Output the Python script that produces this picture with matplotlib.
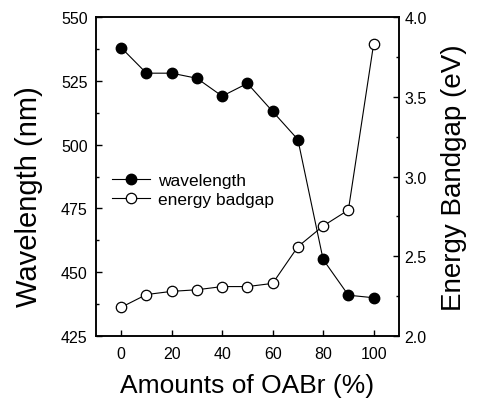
import matplotlib.pyplot as plt
from matplotlib.ticker import MultipleLocator

plt.rcParams['font.family'] = ['Liberation Sans', 'DejaVu Sans']

oabr = [0, 10, 20, 30, 40, 50, 60, 70, 80, 90, 100]
wavelength = [538, 528, 528, 526, 519, 524, 513, 502, 455, 441, 440]
bandgap = [2.18, 2.26, 2.28, 2.29, 2.31, 2.31, 2.33, 2.56, 2.69, 2.79, 3.83]

fig = plt.figure(figsize=(4.87, 4.10), dpi=100)
ax = fig.add_axes([0.197, 0.178, 0.622, 0.778])
ax2 = ax.twinx()

l1, = ax.plot(oabr, wavelength, color='black', lw=0.8, marker='o', ms=7.5,
              mfc='black', mec='black', label='wavelength')
l2, = ax2.plot(oabr, bandgap, color='black', lw=0.8, marker='o', ms=7.5,
               mfc='white', mec='black', mew=0.9, label='energy badgap')

ax.set_xlim(-10, 110)
ax.set_ylim(425, 550)
ax2.set_ylim(2.0, 4.0)
ax.xaxis.set_major_locator(MultipleLocator(20))
ax.yaxis.set_major_locator(MultipleLocator(25))
ax.yaxis.set_minor_locator(MultipleLocator(12.5))
ax2.yaxis.set_major_locator(MultipleLocator(0.5))
ax2.yaxis.set_minor_locator(MultipleLocator(0.25))
ax2.yaxis.set_major_formatter(plt.FormatStrFormatter('%.1f'))

for a in (ax, ax2):
    for s in a.spines.values():
        s.set_linewidth(1.1)
    a.tick_params(which='major', direction='in', length=4, width=1.0, labelsize=11.5)
    a.tick_params(which='minor', direction='in', length=2.5, width=1.0)
ax.tick_params(axis='y', pad=6)
ax.tick_params(axis='x', pad=7)
ax2.tick_params(axis='y', pad=4)

ax.set_xlabel('Amounts of OABr (%)', fontsize=19)
ax.set_ylabel('Wavelength (nm)', fontsize=21)
ax2.set_ylabel('Energy Bandgap (eV)', fontsize=20)
ax.xaxis.set_label_coords(0.5, -0.115)
ax.yaxis.set_label_coords(-0.175, 0.44)
ax2.yaxis.set_label_coords(1.14, 0.5)

ax.legend([l1, l2], ['wavelength', 'energy badgap'], frameon=False, fontsize=12.5,
          loc='upper left', bbox_to_anchor=(0.0, 0.56), handlelength=2.2,
          handletextpad=0.5, labelspacing=0.2)

fig.savefig('out.png', dpi=100)
